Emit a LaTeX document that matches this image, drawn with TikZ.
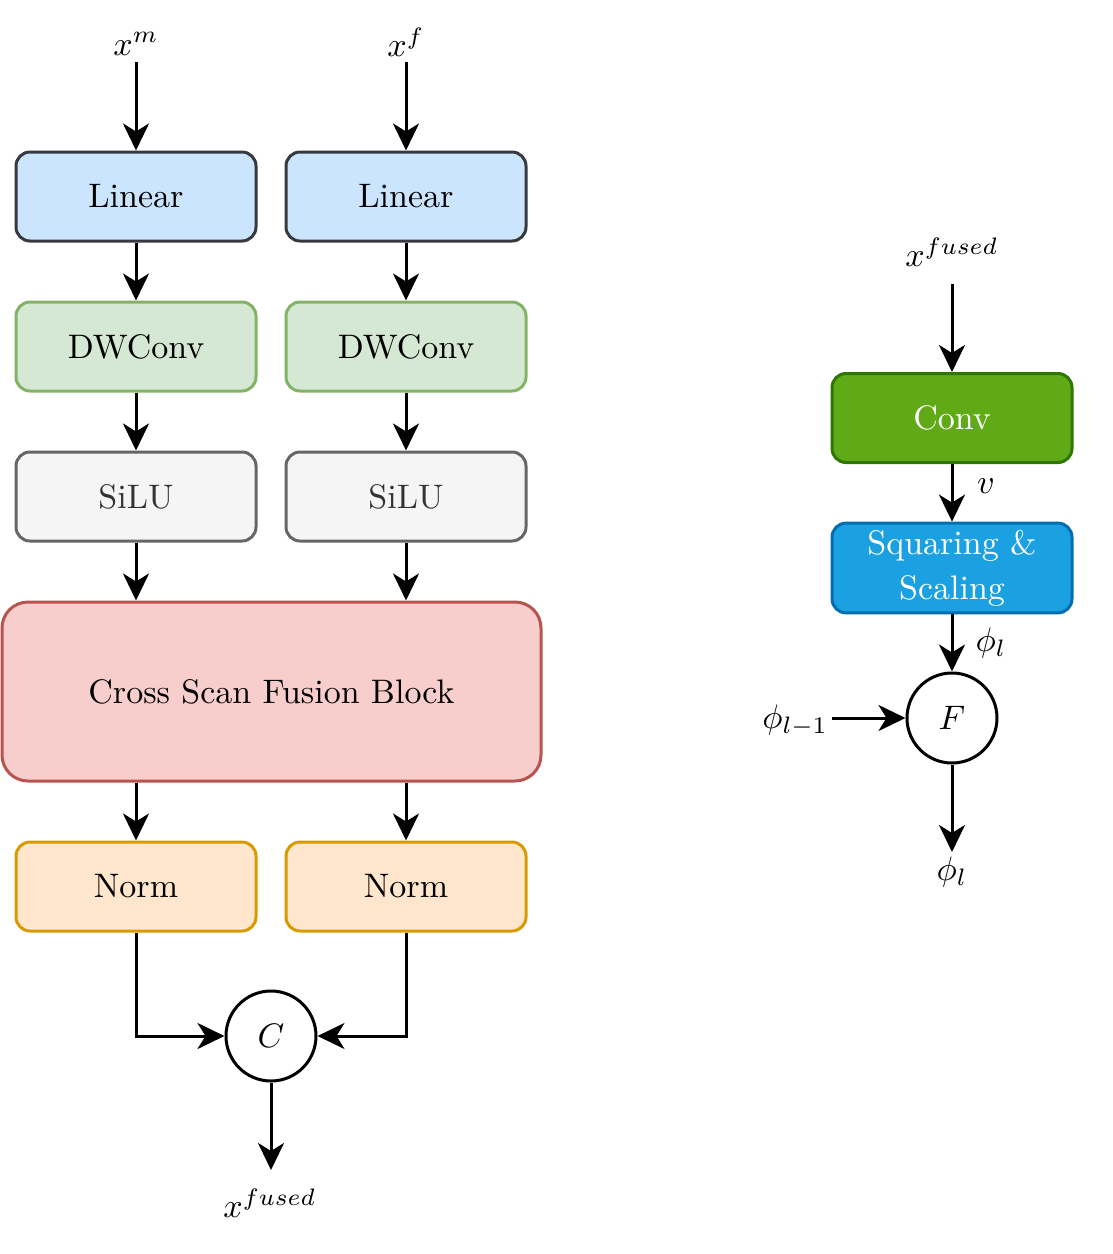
\documentclass[tikz,border=0pt]{standalone}
\usepackage{graphicx}
\usetikzlibrary{arrows.meta,positioning}
\definecolor{linfill}{HTML}{CCE5FF}\definecolor{linstroke}{HTML}{36393D}
\definecolor{dwfill}{HTML}{D5E8D4}\definecolor{dwstroke}{HTML}{82B366}
\definecolor{sifill}{HTML}{F5F5F5}\definecolor{sistroke}{HTML}{666666}\definecolor{sitext}{HTML}{333333}
\definecolor{csfill}{HTML}{F8CECC}\definecolor{csstroke}{HTML}{B85450}
\definecolor{nofill}{HTML}{FFE6CC}\definecolor{nostroke}{HTML}{D79B00}
\definecolor{cvfill}{HTML}{60A917}\definecolor{cvstroke}{HTML}{2D7600}
\definecolor{sqfill}{HTML}{1BA1E2}\definecolor{sqstroke}{HTML}{006EAF}
\newcommand{\bigtxt}[1]{\scalebox{3.4}{#1}}
\begin{document}
\begin{tikzpicture}[x=1pt,y=-1pt,
  blk/.style={rectangle,rounded corners=14pt,line width=3pt,minimum width=240pt,minimum height=89pt,inner sep=0pt,align=center},
  lin/.style={blk,fill=linfill,draw=linstroke},
  dw/.style={blk,fill=dwfill,draw=dwstroke},
  si/.style={blk,fill=sifill,draw=sistroke,text=sitext},
  no/.style={blk,fill=nofill,draw=nostroke},
  cv/.style={blk,fill=cvfill,draw=cvstroke,text=white},
  sq/.style={blk,fill=sqfill,draw=sqstroke,text=white},
  op/.style={circle,draw=black,fill=white,line width=3pt,minimum size=90pt,inner sep=0pt},
  lbl/.style={inner sep=0pt},
  arr/.style={line width=3pt,-{Stealth[length=27pt,width=26pt,inset=8pt]}}]
\useasboundingbox (0,0) rectangle (1113,1254);
% left column
\node[lbl] (xm) at (136,44) {\bigtxt{$x^m$}};
\node[lbl] (xf) at (406,42) {\bigtxt{$x^f$}};
\coordinate (xms) at (136,62);
\coordinate (xfs) at (406,62);
\node[lin] (lin1) at (136,196.5) {\bigtxt{Linear}};
\node[lin] (lin2) at (406,196.5) {\bigtxt{Linear}};
\node[dw] (dw1) at (136,346.5) {\bigtxt{DWConv}};
\node[dw] (dw2) at (406,346.5) {\bigtxt{DWConv}};
\node[si] (si1) at (136,496.5) {\bigtxt{SiLU}};
\node[si] (si2) at (406,496.5) {\bigtxt{SiLU}};
\node[blk,fill=csfill,draw=csstroke,minimum width=539pt,minimum height=179pt,rounded corners=26pt] (cs) at (271.5,691.5) {\bigtxt{Cross Scan Fusion Block}};
\node[no] (no1) at (136,886.5) {\bigtxt{Norm}};
\node[no] (no2) at (406,886.5) {\bigtxt{Norm}};
\node[op] (cc) at (271,1036) {\bigtxt{$C$}};
\coordinate (cend) at (271,1170);
\node[lbl] (xfu) at (270,1203) {\bigtxt{$x^{fused}$}};
\draw[arr] (xms) -- (lin1);
\draw[arr] (xfs) -- (lin2);
\draw[arr] (lin1) -- (dw1);
\draw[arr] (lin2) -- (dw2);
\draw[arr] (dw1) -- (si1);
\draw[arr] (dw2) -- (si2);
\draw[arr] (si1) -- (si1.south |- cs.north);
\draw[arr] (si2) -- (si2.south |- cs.north);
\draw[arr] (no1.north |- cs.south) -- (no1);
\draw[arr] (no2.north |- cs.south) -- (no2);
\draw[arr] (no1.south) |- (cc.west);
\draw[arr] (no2.south) |- (cc.east);
\draw[arr] (cc) -- (cend);
% right column
\node[lbl] (xfu2) at (952,252) {\bigtxt{$x^{fused}$}};
\coordinate (xfus) at (952,284);
\node[cv] (conv) at (952,418) {\bigtxt{Conv}};
\node[sq] (sq) at (952,568) {\raisebox{-2pt}{\bigtxt{\renewcommand{\arraystretch}{1.1}\begin{tabular}{@{}c@{}}Squaring \&\\Scaling\end{tabular}}}};
\node[op] (ff) at (952,718) {\bigtxt{$F$}};
\node[lbl] (phin) at (795,721) {\bigtxt{$\phi_{l-1}$}};
\coordinate (phis) at (832,718);
\coordinate (fend) at (952,852);
\node[lbl] (phio) at (952,872) {\bigtxt{$\phi_l$}};
\node[lbl] (vv) at (986,486) {\bigtxt{$v$}};
\node[lbl] (phim) at (991,643) {\bigtxt{$\phi_l$}};
\draw[arr] (xfus) -- (conv);
\draw[arr] (conv) -- (sq);
\draw[arr] (sq) -- (ff);
\draw[arr] (phis) -- (ff);
\draw[arr] (ff) -- (fend);
\end{tikzpicture}
\end{document}
